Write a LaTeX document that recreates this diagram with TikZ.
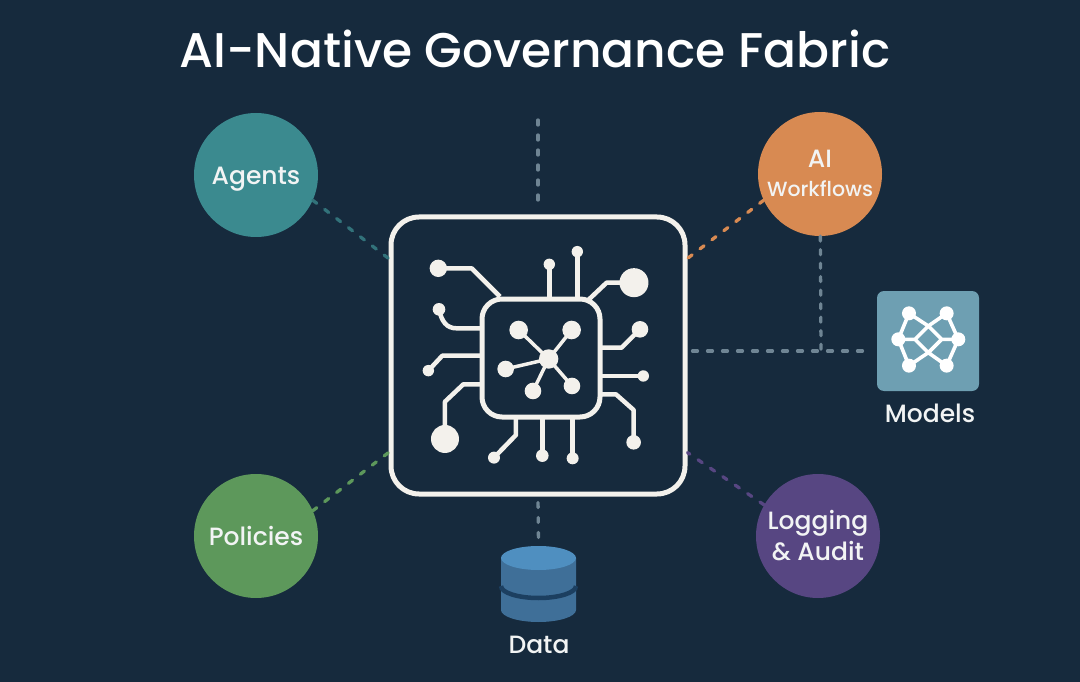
\documentclass[tikz,border=0pt]{standalone}
\usepackage{fontspec}
\setmainfont{Poppins Medium}
\usetikzlibrary{calc}
\definecolor{bgc}{HTML}{162A3D}
\definecolor{ink}{HTML}{F3F1EC}
\definecolor{txt}{HTML}{F2F4F4}
\definecolor{tealc}{HTML}{3B8A8F}
\definecolor{orangec}{HTML}{D88A52}
\definecolor{greenc}{HTML}{5D985B}
\definecolor{purplec}{HTML}{574682}
\definecolor{modelc}{HTML}{6E9FB2}
\definecolor{greyd}{HTML}{6F8594}
\definecolor{cyltop}{HTML}{4F8FC0}
\definecolor{cylside}{HTML}{3F6F98}
\definecolor{cylgap}{HTML}{1C3F60}
\tikzset{
  hub/.style={circle,minimum size=124pt,inner sep=0pt,text=txt,align=center,font=\fontsize{25}{31}\selectfont},
  conn/.style={line width=3.3pt,dash pattern=on 5pt off 10pt,line cap=round},
  chipline/.style={draw=ink,line width=4.5pt,line join=round},
  dotc/.style={fill=ink},
  label/.style={text=txt,font=\fontsize{25}{30}\selectfont,inner sep=0pt}
}
\begin{document}
\begin{tikzpicture}[x=1pt,y=-1pt]
\useasboundingbox (0,0) rectangle (1080,682);
\fill[bgc] (0,0) rectangle (1080,682);
\node[text=white,font=\fontsize{48.7}{52}\selectfont,inner sep=0pt] (title) at (535,49) {AI-Native Governance Fabric};

\node[hub,fill=tealc,text depth=0pt,yshift=0pt] (agents) at (256,175) {\raisebox{-2pt}{Agents}};
\node[hub,fill=orangec,font=\fontsize{20.5}{29}\selectfont] (flows) at (820,174) {\raisebox{2pt}{\fontsize{25}{29}\selectfont AI}\\\raisebox{2pt}{Workflows}};
\node[hub,fill=greenc] (policies) at (256,536) {Policies};
\node[hub,fill=purplec] (logging) at (818,536) {\raisebox{-2pt}{Logging}\\\raisebox{-2pt}{\& Audit}};

\node[draw=ink,line width=5pt,rounded corners=28pt,minimum width=294pt,minimum height=277pt,inner sep=0pt] (chip) at (538,355.5) {};
\node[draw=ink,line width=5pt,rounded corners=20pt,minimum width=118pt,minimum height=118pt,inner sep=0pt] (core) at (541,358) {};

\node[fill=modelc,rounded corners=7pt,minimum width=102pt,minimum height=100pt,inner sep=0pt] (models) at (928,341) {};
\node[label] (modelslabel) at (930,413) {Models};
\node[minimum width=75pt,minimum height=76pt,inner sep=0pt] (data) at (538.5,584) {};
\node[label] (datalabel) at (539,645) {Data};
\coordinate (top) at (538,120);
\coordinate (mj) at (821,351);

\draw[conn,tealc!75!bgc] (agents.-24) -- (chip.147);
\draw[conn,orangec] (flows.205) -- (chip.33);
\draw[conn,greenc] (policies.24) -- (chip.213);
\draw[conn,purplec] (logging.150) -- (chip.-33);
\draw[conn,greyd,shorten >=6pt] (top) -- (chip.north);
\draw[conn,greyd,shorten <=6pt,shorten >=6pt] (chip.south) -- (data.north);
\draw[conn,greyd,dash pattern=on 5pt off 8.5pt] (flows) -- (mj);
\draw[conn,greyd,shorten >=6pt,shorten <=5pt] (chip.east |- mj) -- (models.west |- mj);

% chip traces, in 3x zoom coordinates
\begin{scope}[shift={(380,205)},x=0.3333pt,y=-0.3333pt]
\draw[chipline] (175,190) -- (275,190) -- (360,275);
\draw[chipline] (177,313) .. controls (185,350) and (200,370) .. (230,370) -- (300,370);
\draw[chipline] (145,497) -- (187,452) -- (300,452);
\draw[chipline] (195,702) -- (195,590) -- (250,538) -- (300,538);
\draw[chipline] (508,178) -- (508,275);
\draw[chipline] (592,140) -- (592,275);
\draw[chipline] (762,233) -- (680,233) -- (625,285);
\draw[chipline] (780,373) -- (725,428) -- (665,428);
\draw[chipline] (790,513) -- (665,513);
\draw[chipline] (761,712) -- (761,615) -- (708,568) -- (665,568);
\draw[chipline] (342,758) -- (408,690) -- (408,640);
\draw[chipline] (487,752) -- (487,640);
\draw[chipline] (578,760) -- (578,640);
\fill[dotc] (175,190) circle[radius=8.7pt];
\fill[dotc] (177,313) circle[radius=6.3pt];
\fill[dotc] (145,497) circle[radius=5.7pt];
\fill[dotc] (195,702) circle[radius=14pt];
\fill[dotc] (508,178) circle[radius=5.7pt];
\fill[dotc] (592,140) circle[radius=5.7pt];
\fill[dotc] (762,233) circle[radius=14.5pt];
\fill[dotc] (780,373) circle[radius=8.3pt];
\fill[dotc] (790,513) circle[radius=5.7pt];
\fill[dotc] (761,712) circle[radius=7.3pt];
\fill[dotc] (342,758) circle[radius=6pt];
\fill[dotc] (487,752) circle[radius=6.3pt];
\fill[dotc] (578,760) circle[radius=6pt];
% core hub
\foreach \a/\b in {416/375,575/375,377/492,459/558,576/543}
  \draw[chipline,line width=3.5pt] (506,462) -- (\a,\b);
\fill[dotc] (506,462) circle[radius=9.7pt];
\fill[dotc] (416,375) circle[radius=9.3pt];
\fill[dotc] (575,375) circle[radius=9.3pt];
\fill[dotc] (377,492) circle[radius=8.3pt];
\fill[dotc] (459,558) circle[radius=8.3pt];
\fill[dotc] (576,543) circle[radius=8.3pt];
\end{scope}

% model icon
\begin{scope}[shift={(680,220)},x=0.3333pt,y=-0.3333pt]
\draw[white,line width=3.6pt,line join=round]
  (655,358) -- (687,280) -- (745,318) -- (785,358) -- (835,358) -- (800,280) -- (745,318) -- (705,358) -- (655,358) -- (687,437) -- (745,398) -- (785,358)
  (705,358) -- (745,398) -- (800,437) -- (835,358);
\foreach \a/\b/\r in {687/280/7,800/280/7,655/358/7,835/358/7,687/437/7,800/437/7}
  \fill[white] (\a,\b) circle[radius=\r pt];
\end{scope}

% database
\fill[cylside] (501,558) -- (576,558) -- (576,610) arc[start angle=0,end angle=180,x radius=37.5pt,y radius=-12pt] -- cycle;
\draw[cylgap,line width=4.5pt] (501,586) arc[start angle=180,end angle=0,x radius=37.5pt,y radius=-12pt];
\fill[cyltop] (538.5,558) ellipse[x radius=37.5pt,y radius=12pt];
\end{tikzpicture}
\end{document}
